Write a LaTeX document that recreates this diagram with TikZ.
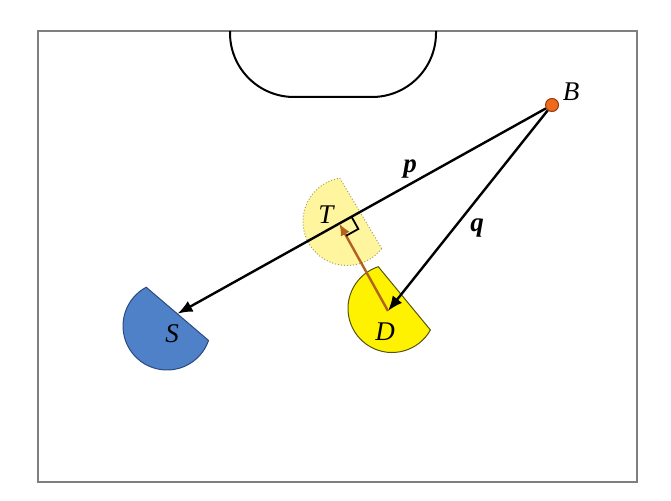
\documentclass[tikz,border=0pt]{standalone}
\usepackage{fontspec}
\setmainfont{Liberation Serif}
\usepackage{xcolor}
\usepackage{tikz}
\usetikzlibrary{calc,arrows.meta}

\definecolor{fieldgray}{HTML}{7F7F7F}
\definecolor{sfill}{HTML}{4F81C9}
\definecolor{sline}{HTML}{2B4A7F}
\definecolor{dfill}{HTML}{FFF200}
\definecolor{dline}{HTML}{55550F}
\definecolor{tfill}{HTML}{FFF59E}
\definecolor{tline}{HTML}{A89F5A}
\definecolor{ballfill}{HTML}{EE6A1E}
\definecolor{ballline}{HTML}{9A3A0A}
\definecolor{pushbrown}{HTML}{B0621E}

\begin{document}
\begin{tikzpicture}[x=1pt,y=-1pt,
    lbl/.style={font=\fontsize{27}{30}\selectfont\itshape, inner sep=0pt, anchor=base},
    vec/.style={line width=2.4pt, -{Latex[length=15pt,width=12pt]}},
    sdisk/.style={fill=sfill, draw=sline, line width=1pt},
    ddisk/.style={fill=dfill, draw=dline, line width=1pt},
    tdisk/.style={fill=tfill, draw=tline, line width=1pt, dotted},
    ball/.style={circle, fill=ballfill, draw=ballline, line width=1pt, minimum size=13pt, inner sep=0pt}]
        \useasboundingbox (0,0) rectangle (671,500);
        % 场地边框和球门区
        \draw[fieldgray, line width=2pt] (38,31) rectangle (637,482);
        \draw[line width=2pt, rounded corners=64pt] (230,31) -- (230,97) -- (436,97) -- (436,31);
        % 绘制半圆
        \draw[sdisk] (167,326) ++(19.2:44) arc[start angle=19.2, end angle=241.8, radius=44] -- cycle;
        \draw[tdisk] (347,221.5) ++(37.9:44) arc[start angle=37.9, end angle=260.5, radius=44] -- cycle;
        \draw[ddisk] (392,308.5) ++(29.2:44) arc[start angle=29.2, end angle=251.8, radius=44] -- cycle;
        % 球和目标点
        \node[ball] (B) at (552,105) {};
        \coordinate (Sm) at (177.5,313.7);
        \coordinate (Dc) at (388,311);
        \coordinate (Tf) at ($(B)!(Dc)!(Sm)$);
        % 绘制箭头
        \draw[vec] (B) -- (Sm);
        \draw[vec] (B) -- (Dc);
        \draw[pushbrown, line width=2.4pt, -{Latex[length=12pt,width=10pt]}] (Dc) -- (Tf);
        % 绘制直角标记
        \coordinate (Ra) at ($(Tf)!14pt!(B)$);
        \coordinate (Rb) at ($(Tf)!14pt!(Dc)$);
        \draw[line width=1.8pt] (Ra) -- ($(Ra)+(Rb)-(Tf)$) -- (Rb);
        % 标记
        \node[lbl] (labB) at (571,101) {B};
        \node[lbl] (labp) at (410,172) {\bfseries p};
        \node[lbl] (labq) at (477,231) {\bfseries q};
        \node[lbl] (labT) at (326,223) {T};
        \node[lbl] (labD) at (385,340) {D};
        \node[lbl] (labS) at (172,342) {S};
    \end{tikzpicture}
\end{document}
